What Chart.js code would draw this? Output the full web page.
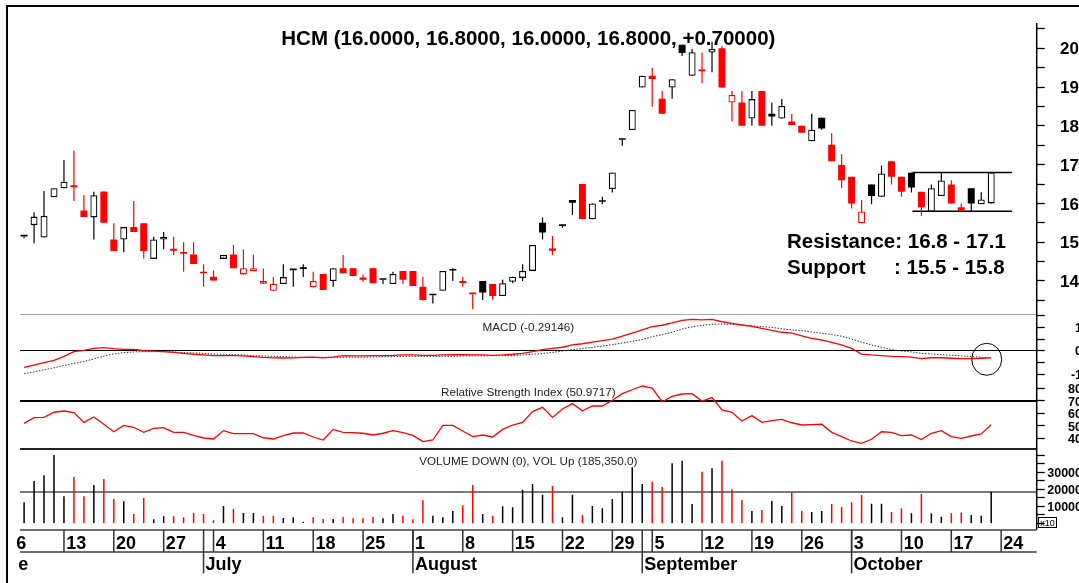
<!DOCTYPE html>
<html><head><meta charset="utf-8">
<script src="https://cdn.jsdelivr.net/npm/chart.js@4/dist/chart.umd.min.js"></script>
<style>html,body{margin:0;padding:0;background:#fff;}canvas{display:block;}</style>
</head><body>
<canvas id="c" width="1079" height="583"></canvas>
<script>
// ---------- data ----------
const open = [15.15,15.44,15.12,16.16,16.39,16.47,15.82,15.64,16.31,15.07,
15.07,15.39,15.49,14.57,15.07,14.83,14.75,14.68,14.2,14.11,
14.57,14.68,14.17,14.25,13.93,13.75,13.92,14.28,14.31,13.84,
14.18,14.0,14.33,14.33,14.09,14.33,14.03,13.92,14.26,14.26,
13.85,13.63,13.75,14.27,14.0,13.66,14.0,13.92,13.61,13.98,
14.08,14.26,15.5,14.84,15.42,16.09,16.5,15.59,16.04,16.37,
17.64,17.89,18.99,19.29,18.7,18.99,20.09,19.29,19.41,19.89,
20.0,18.6,18.6,18.19,18.9,18.31,18.19,18.11,18.0,17.6,
18.21,17.51,16.99,16.69,15.49,16.49,16.17,17.09,16.69,16.79,
16.3,15.79,16.19,16.49,15.9,16.39,15.98,16.0];
const high = [15.15,15.77,16.32,16.39,17.12,17.36,16.22,16.30,16.31,15.49,
15.39,16.06,15.49,15.14,15.26,15.14,15.0,15.0,14.43,14.27,
14.67,14.93,14.82,14.68,14.32,14.1,14.43,14.28,14.43,14.24,
14.18,14.33,14.67,14.33,14.17,14.33,14.03,14.24,14.26,14.26,
14.1,13.63,14.26,14.33,14.1,13.66,14.0,13.92,14.03,14.11,
14.43,14.93,15.64,15.16,15.42,16.09,16.5,16.0,16.17,16.8,
17.64,18.41,19.29,19.5,18.9,19.2,20.09,19.98,19.89,20.17,
20.05,18.9,18.9,18.9,18.9,18.6,18.69,18.31,18.0,18.31,
18.21,17.81,17.27,16.69,16.09,16.49,16.98,17.09,16.69,16.79,
16.3,16.49,16.78,16.6,16.0,16.39,16.29,16.8];
const low = [15.1,14.97,15.12,16.16,16.39,16.06,15.65,15.07,15.5,14.77,
14.74,15.26,14.58,14.57,14.82,14.67,14.24,14.44,13.85,14.01,
14.57,14.33,14.17,14.25,13.93,13.75,13.92,13.85,14.1,13.84,
13.77,13.85,14.2,14.13,13.98,13.94,13.92,13.92,13.92,13.87,
13.5,13.42,13.75,14.0,13.85,13.27,13.51,13.51,13.61,13.94,
14.0,14.26,15.07,14.67,15.37,15.7,15.6,15.59,15.98,16.28,
17.49,17.89,18.99,18.49,18.31,18.7,19.8,19.29,19.1,19.38,
18.99,18.11,18.0,18.0,18.0,18.0,18.19,18.02,17.82,17.6,
17.9,17.09,16.39,15.87,15.49,15.98,16.17,16.49,16.17,16.28,
15.68,15.79,16.19,16.0,15.81,15.79,15.98,16.0];
const close = [15.15,15.66,15.68,16.39,16.56,16.42,15.65,16.21,15.5,14.77,
15.39,15.26,14.77,15.07,15.14,14.78,14.7,14.44,14.2,14.01,
14.67,14.33,14.33,14.33,14.0,13.93,14.1,14.28,14.31,14.0,
13.77,14.33,14.2,14.13,14.03,13.94,14.03,14.18,14.03,13.87,
13.51,13.63,14.26,14.27,13.95,13.66,13.7,13.61,13.94,14.11,
14.26,14.93,15.25,14.78,15.42,16.02,15.6,16.0,16.04,16.8,
17.64,18.41,19.29,19.21,18.31,19.2,19.88,19.9,19.41,19.98,
18.99,18.8,18.0,18.69,18.0,18.24,18.51,18.02,17.82,17.9,
17.93,17.09,16.6,16.0,15.79,16.19,16.77,16.69,16.3,16.41,
15.9,16.39,16.59,16.0,15.81,16.0,16.1,16.8];
const vol = [12300,24800,28150,40060,15830,27150,15830,22460,25980,14250,
12900,5450,14840,2340,4100,4100,3500,6040,5450,1760,
10150,8390,6040,6040,4460,4460,3110,3500,950,3500,
2520,2520,3700,2930,2930,3700,2930,5450,4460,2340,
13490,4460,3500,7210,10560,22460,5450,4460,9970,9380,
19710,23050,16780,21880,3500,16780,4870,10150,8800,14250,
18530,32840,23050,24400,21290,35190,36720,11320,30260,32260,
36720,19940,13670,7210,7800,13080,10150,18180,7210,6630,
7210,11320,9560,12300,16600,11500,11500,6630,8800,5860,
17180,5860,3880,5860,6300,4870,4460,18535];
const macd = [-0.70,-0.60,-0.50,-0.40,-0.23,-0.03,0.03,0.11,0.14,0.10,
0.07,0.07,0.01,-0.01,-0.03,-0.06,-0.10,-0.14,-0.17,-0.20,
-0.20,-0.20,-0.21,-0.24,-0.27,-0.29,-0.30,-0.29,-0.27,-0.26,
-0.29,-0.26,-0.20,-0.21,-0.21,-0.20,-0.20,-0.19,-0.17,-0.17,
-0.19,-0.19,-0.17,-0.16,-0.16,-0.17,-0.17,-0.19,-0.17,-0.14,
-0.10,-0.03,0.06,0.11,0.16,0.26,0.31,0.38,0.44,0.51,
0.63,0.76,0.90,1.04,1.10,1.20,1.31,1.35,1.33,1.35,
1.25,1.18,1.11,1.05,0.97,0.88,0.80,0.76,0.65,0.54,
0.47,0.37,0.26,0.11,-0.13,-0.17,-0.20,-0.23,-0.24,-0.26,
-0.33,-0.29,-0.29,-0.31,-0.33,-0.33,-0.31,-0.29];
const signal = [-0.97,-0.89,-0.80,-0.72,-0.62,-0.53,-0.45,-0.34,-0.22,-0.12,
-0.07,-0.04,-0.03,-0.03,-0.03,-0.04,-0.07,-0.08,-0.10,-0.13,
-0.14,-0.16,-0.17,-0.20,-0.21,-0.23,-0.24,-0.26,-0.27,-0.27,
-0.27,-0.27,-0.27,-0.26,-0.26,-0.26,-0.24,-0.24,-0.23,-0.23,
-0.23,-0.23,-0.23,-0.23,-0.21,-0.21,-0.21,-0.20,-0.20,-0.19,
-0.17,-0.14,-0.11,-0.06,0.00,0.06,0.11,0.16,0.21,0.27,
0.34,0.41,0.49,0.61,0.70,0.80,0.94,1.03,1.10,1.14,
1.15,1.14,1.11,1.07,1.04,1.01,0.95,0.90,0.87,0.81,
0.76,0.70,0.63,0.51,0.38,0.26,0.16,0.06,0.00,-0.04,
-0.10,-0.13,-0.16,-0.18,-0.21,-0.24,-0.27,-0.28];
const rsi = [52.1,56.7,56.9,61.0,62.0,60.7,52.9,57.2,51.4,45.4,
50.5,49.0,44.9,48.1,48.7,44.9,44.9,42.5,40.4,39.6,
46.3,43.9,43.9,43.9,40.6,39.6,42.3,44.4,44.4,41.2,
38.8,47.3,44.9,44.7,44.2,42.8,44.2,46.3,44.7,42.5,
37.5,38.8,50.5,50.5,46.0,41.5,42.8,41.2,47.3,50.8,
52.9,61.5,64.9,56.9,63.6,67.9,62.2,66.0,66.0,70.6,
75.9,79.0,82.0,80.4,69.4,73.7,75.6,75.9,70.0,72.7,
62.8,61.0,54.0,58.3,52.9,54.3,55.3,52.6,50.8,51.1,
51.4,44.9,41.5,38.0,36.1,39.4,45.4,44.9,42.3,42.8,
39.1,44.2,46.3,41.5,40.1,42.0,43.6,51.0];

const dayTickIdx = [-1,4,9,14,19,24,29,34,39,44,49,54,59,63,68,73,78,83,88,93,98];
const dayTickLabels = ['6','13','20','27','4','11','18','25','1','8','15','22','29','5','12','19','26','3','10','17','24'];
const monthSepIdx = [-4,18,39,62,83];
const monthLabels = ['June','July','August','September','October'];

const levels = [16.8, 15.8];          // resistance / support lines
const levelFrom = 89.1, levelTo = 99.1;
const rsiLevel = 70;
const priceTicks = [14,15,16,17,18,19,20];
const macdTicks = [1,0,-1];
const rsiTicks = [80,70,60,50,40];
const volTicks = [30000,20000,10000];

const ticker = 'HCM';
const macdText = 'MACD (-0.29146)';
const rsiText = 'Relative Strength Index (50.9717)';
const volText = 'VOLUME DOWN (0), VOL Up (185,350.0)';
const resText = 'Resistance: 16.8 - 17.1';
const supText = 'Support     : 15.5 - 15.8';

// ---------- derived ----------
const RED = '#ff0000', BLK = '#000000';
const n = close.length;
const xs = close.map((_, i) => i);
const candleCol = xs.map(i => (i === 0 || close[i] > close[i-1]) ? BLK : RED);
const volCol = xs.map(i => (i > 0 && close[i] < close[i-1]) ? RED : BLK);
const bodyFill = xs.map(i => close[i] > open[i] ? '#ffffff' : candleCol[i]);
const bodyBorder = xs.map(i => close[i] > open[i] ? 1.3 : 0);
const chg = close[n-1] - close[n-2];
const title = ticker + ' (' + [open[n-1], high[n-1], low[n-1], close[n-1]].map(v => v.toFixed(4)).join(', ') +
  ', ' + (chg >= 0 ? '+' : '') + chg.toFixed(5) + ')';

const F = '"Liberation Sans", Arial, Helvetica, sans-serif';
const crisp = (y, w) => (Math.round(w) % 2 === 1) ? Math.round(y - 0.5) + 0.5 : Math.round(y);

const decor = {
  id: 'decor',
  beforeDraw(chart) {
    const ctx = chart.ctx;
    ctx.save();
    ctx.fillStyle = '#fff';
    ctx.fillRect(0, 0, chart.width, chart.height);
    ctx.strokeStyle = '#000'; ctx.lineWidth = 2;
    ctx.strokeRect(7, 6, chart.width + 20, chart.height + 20);
    ctx.restore();
  },
  beforeDatasetsDraw(chart) {
    const {ctx, chartArea: ca, scales} = chart;
    const L = ca.left, R = ca.right;
    ctx.save();
    const hline = (y, color, w) => { const yy = crisp(y, w); ctx.beginPath(); ctx.strokeStyle = color; ctx.lineWidth = w; ctx.moveTo(L, yy); ctx.lineTo(R, yy); ctx.stroke(); };
    hline(scales.yP.bottom, '#aaaaaa', 1);
    hline(scales.yM.getPixelForValue(0), '#000', 1);
    hline(scales.yR.getPixelForValue(rsiLevel), '#000', 2);
    hline(scales.yR.bottom, '#222', 2);
    hline(scales.yV.getPixelForValue(vol[n-1]), '#7a7a7a', 2);
    const cx = (L + R) / 2;
    ctx.fillStyle = '#000';
    ctx.textAlign = 'center'; ctx.textBaseline = 'alphabetic';
    ctx.font = 'bold 20.5px ' + F;
    ctx.fillText(title, cx, 45);
    ctx.fillStyle = '#222';
    ctx.font = '11.7px ' + F;
    ctx.fillText(macdText, cx, 330.8);
    ctx.fillText(rsiText, cx, 396.4);
    ctx.fillText(volText, cx, 465);
    ctx.fillStyle = '#000';
    ctx.font = 'bold 20.5px ' + F;
    ctx.textAlign = 'left';
    ctx.fillText(resText, 787, 248.3);
    ctx.fillText(supText, 787, 274);
    ctx.restore();
  },
  afterDatasetsDraw(chart) {
    const {ctx, chartArea: ca, scales} = chart;
    const L = ca.left, R = ca.right;
    const xS = scales.x;
    ctx.save();
    // right axis
    ctx.strokeStyle = '#000'; ctx.lineWidth = 1.5;
    ctx.beginPath(); ctx.moveTo(R, ca.top); ctx.lineTo(R, 530); ctx.stroke();
    const tick = (y) => { const yy = crisp(y, 1); ctx.beginPath(); ctx.moveTo(R, yy); ctx.lineTo(R + 8, yy); ctx.stroke(); };
    ctx.lineWidth = 1.3;
    for (let v = 13.5; v <= 20.5001; v += 0.5) tick(scales.yP.getPixelForValue(v));
    for (let v = -1; v <= 1.5001; v += 0.5) tick(scales.yM.getPixelForValue(v));
    for (let v = 40; v <= 80; v += 10) tick(scales.yR.getPixelForValue(v));
    for (let v = 0; v <= 40000; v += 5000) tick(scales.yV.getPixelForValue(v));
    ctx.fillStyle = '#000';
    ctx.textBaseline = 'alphabetic';
    ctx.textAlign = 'left';
    ctx.font = 'bold 17px ' + F;
    priceTicks.forEach(v => ctx.fillText(String(v), 1060, scales.yP.getPixelForValue(v) + 6.2));
    ctx.textAlign = 'right';
    ctx.font = 'bold 12.5px ' + F;
    macdTicks.forEach(v => ctx.fillText(String(v), 1082, scales.yM.getPixelForValue(v) + 4.5));
    rsiTicks.forEach(v => ctx.fillText(String(v), 1082, scales.yR.getPixelForValue(v) + 4.5));
    volTicks.forEach(v => ctx.fillText(String(v), 1082, scales.yV.getPixelForValue(v) + 4.5));
    // x10 box
    ctx.lineWidth = 1; ctx.strokeStyle = '#000';
    ctx.strokeRect(1038.5, 517.5, 18, 10);
    ctx.font = '9px ' + F; ctx.textAlign = 'center';
    ctx.fillText('x10', 1047.5, 525.5);
    // ellipse on MACD cross
    ctx.beginPath();
    ctx.ellipse(xS.getPixelForValue(96.55), scales.yM.getPixelForValue(-0.355), 15, 16, 0, 0, Math.PI * 2);
    ctx.lineWidth = 1; ctx.stroke();
    // date axis
    ctx.strokeStyle = '#6e6e6e'; ctx.lineWidth = 2;
    [530, 552].forEach(y => { ctx.beginPath(); ctx.moveTo(L, y); ctx.lineTo(R, y); ctx.stroke(); });
    ctx.strokeStyle = '#333'; ctx.lineWidth = 1.5;
    ctx.font = 'bold 18px ' + F; ctx.textAlign = 'left'; ctx.fillStyle = '#000';
    dayTickIdx.forEach((d, k) => {
      const x = xS.getPixelForValue(d);
      if (x >= L) { ctx.beginPath(); ctx.moveTo(x, 530); ctx.lineTo(x, 552); ctx.stroke(); }
      ctx.fillText(dayTickLabels[k], x + 2.2, 548.5);
    });
    monthSepIdx.forEach((d, k) => {
      const x = xS.getPixelForValue(d);
      if (x >= L) { ctx.beginPath(); ctx.moveTo(x, 530); ctx.lineTo(x, 573.3); ctx.stroke(); }
      ctx.save();
      ctx.beginPath(); ctx.rect(19, 552, 1040, 30); ctx.clip();
      ctx.fillText(monthLabels[k], x + 2, 569.5);
      ctx.restore();
    });
    ctx.restore();
  }
};

new Chart(document.getElementById('c'), {
  type: 'bar',
  data: {
    datasets: [
      { type: 'line', label: 'Resistance', data: [{x: levelFrom, y: levels[0]}, {x: levelTo, y: levels[0]}],
        yAxisID: 'yP', borderColor: '#000', borderWidth: 1.5, pointRadius: 0, order: 9 },
      { type: 'line', label: 'Support', data: [{x: levelFrom, y: levels[1]}, {x: levelTo, y: levels[1]}],
        yAxisID: 'yP', borderColor: '#000', borderWidth: 1.5, pointRadius: 0, order: 9 },
      { label: 'Wick', data: xs.map(i => ({x: i, y: [low[i], high[i]]})), yAxisID: 'yP',
        backgroundColor: candleCol, borderWidth: 0, barThickness: 1.2, grouped: false, inflateAmount: 0, order: 8 },
      { label: 'Body', data: xs.map(i => ({x: i, y: [open[i], close[i]]})), yAxisID: 'yP',
        backgroundColor: bodyFill, borderColor: candleCol, borderWidth: bodyBorder, borderSkipped: false,
        barThickness: 7, minBarLength: 1.6, grouped: false, inflateAmount: 0, order: 7 },
      { type: 'line', label: 'MACD', data: xs.map(i => ({x: i, y: macd[i]})), yAxisID: 'yM',
        borderColor: RED, borderWidth: 1.3, pointRadius: 0, tension: 0, order: 2 },
      { type: 'line', label: 'Signal', data: xs.map(i => ({x: i, y: signal[i]})), yAxisID: 'yM',
        borderColor: '#333', borderWidth: 1, borderDash: [1.5, 1.5], pointRadius: 0, tension: 0, order: 3 },
      { type: 'line', label: 'RSI', data: xs.map(i => ({x: i, y: rsi[i]})), yAxisID: 'yR',
        borderColor: RED, borderWidth: 1.3, pointRadius: 0, tension: 0, order: 2 },
      { label: 'Volume', data: xs.map(i => ({x: i, y: vol[i]})), yAxisID: 'yV',
        backgroundColor: volCol, borderWidth: 0, barThickness: 1.5, grouped: false, inflateAmount: 0, order: 2 }
    ]
  },
  options: {
    responsive: false, animation: false, devicePixelRatio: 1, events: [],
    layout: { padding: { left: 20, right: 1079 - 1036.7, top: 23, bottom: 583 - 523.3 } },
    plugins: { legend: { display: false }, tooltip: { enabled: false }, title: { display: false } },
    scales: {
      x: { type: 'linear', display: false, min: -0.41, max: 101.565, offset: false },
      yP: { type: 'linear', position: 'right', display: false, stack: 'panels', stackWeight: 292, min: 13.123, max: 20.652, beginAtZero: false },
      yM: { type: 'linear', position: 'right', display: false, stack: 'panels', stackWeight: 68, min: -1.368, max: 1.538, beginAtZero: false },
      yR: { type: 'linear', position: 'right', display: false, stack: 'panels', stackWeight: 66, min: 31.6, max: 84.4, beginAtZero: false },
      yV: { type: 'linear', position: 'right', display: false, stack: 'panels', stackWeight: 74.3, min: 0, max: 43578, beginAtZero: true }
    }
  },
  plugins: [decor]
});
</script>
</body></html>
